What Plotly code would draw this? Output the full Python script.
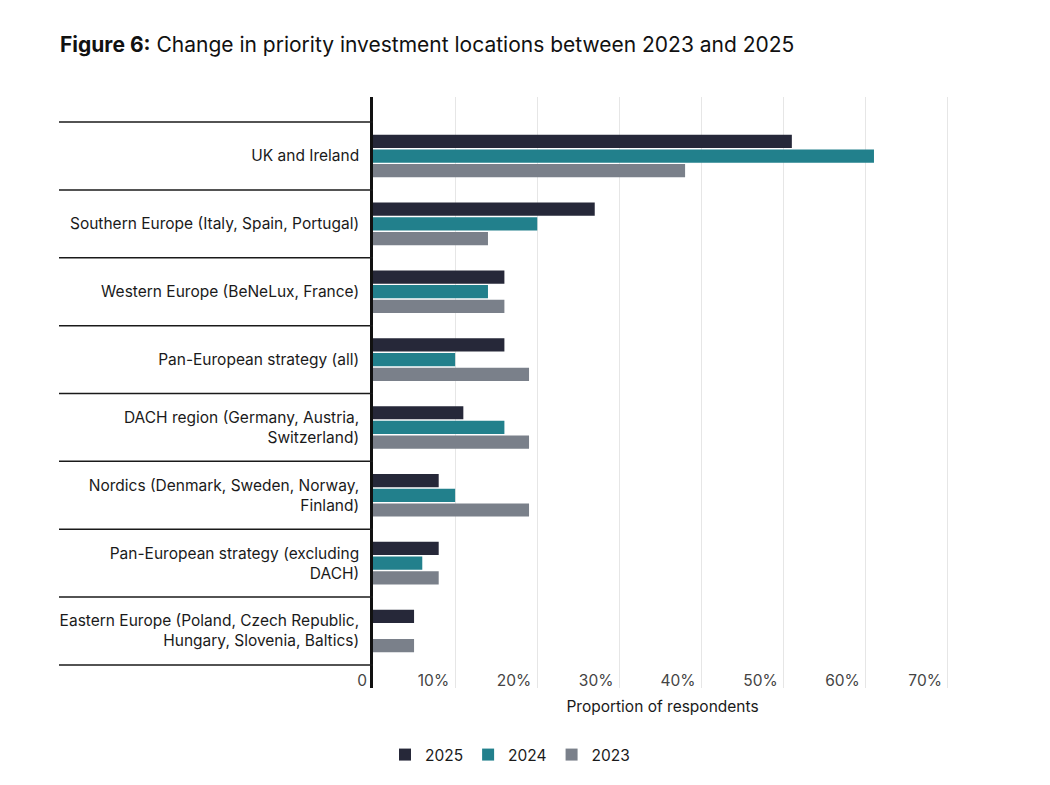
import plotly.graph_objects as go

# categories, top to bottom
regions = [
    "UK and Ireland",
    "Southern Europe (Italy, Spain, Portugal)",
    "Western Europe (BeNeLux, France)",
    "Pan-European strategy (all)",
    "DACH region (Germany, Austria,<br>Switzerland)",
    "Nordics (Denmark, Sweden, Norway,<br>Finland)",
    "Pan-European strategy (excluding<br>DACH)",
    "Eastern Europe (Poland, Czech Republic,<br>Hungary, Slovenia, Baltics)",
]

years = ["2025", "2024", "2023"]
vals_2025 = [51, 27, 16, 16, 11, 8, 8, 5]
vals_2024 = [61, 20, 14, 10, 16, 10, 6, 0]
vals_2023 = [38, 14, 16, 19, 19, 19, 8, 5]

tick_vals = [0, 10, 20, 30, 40, 50, 60, 70]
tick_text = ["0", "10%", "20%", "30%", "40%", "50%", "60%", "70%"]

colors = {"2025": "#262839", "2024": "#22808C", "2023": "#7A808A"}
series = {"2025": vals_2025, "2024": vals_2024, "2023": vals_2023}

FONT = "Inter"
# the page body adds a small offset, so everything is nudged up/left
OFF = 8

fig = go.Figure()
for yr in years:
    fig.add_trace(go.Bar(
        y=list(range(len(regions))),
        x=series[yr],
        name=yr,
        orientation="h",
        marker=dict(color=colors[yr], line=dict(width=0)),
    ))

# black separator lines between the categories, across the label column
for i in range(len(regions) + 1):
    fig.add_shape(type="line", xref="paper", yref="y",
                  x0=-314 / 579, x1=0, y0=i - 0.5, y1=i - 0.5,
                  line=dict(color="#1a1a1a", width=1.5))

fig.update_layout(
    width=1050, height=785,
    paper_bgcolor="white", plot_bgcolor="white",
    margin=dict(l=373 - OFF, r=98 + OFF, t=97 - OFF, b=97 + OFF),
    barmode="group", bargap=0.35, bargroupgap=0.1,
    font=dict(family=FONT, size=15.5, color="#1a1a1a"),
    title=dict(
        text="<b>Figure 6:</b> Change in priority investment locations between 2023 and 2025",
        x=(60 - OFF) / 1050, xanchor="left", xref="container",
        y=1 - (45 - OFF) / 785, yanchor="middle", yref="container",
        font=dict(family=FONT, size=21, color="#111111"),
    ),
    legend=dict(
        orientation="h", x=(510 - OFF) / 1050, xref="container", xanchor="center",
        y=1 - (755 - OFF) / 785, yref="container", yanchor="middle",
        font=dict(size=15.5), itemwidth=30, traceorder="normal",
    ),
    showlegend=True,
)

fig.update_xaxes(
    range=[0, 70.5], tickvals=tick_vals, ticktext=tick_text,
    showgrid=True, gridcolor="#e6e6e6", gridwidth=1,
    zeroline=False, showline=False,
    ticklabelposition="inside left", ticklabeloverflow="allow", ticks="",
    ticklabelshift=-6, ticklabelstandoff=-7,
    tickfont=dict(size=15.5),
    title=dict(text="Proportion of respondents", font=dict(size=15.5), standoff=12),
)

fig.update_yaxes(
    range=[7.84, -0.87],
    tickvals=list(range(len(regions))), ticktext=regions,
    showgrid=False, zeroline=False,
    showline=True, linecolor="#111111", linewidth=2.5,
    ticks="", ticklabelstandoff=8,
    tickfont=dict(size=15.5),
)

fig.write_html("out.html")
